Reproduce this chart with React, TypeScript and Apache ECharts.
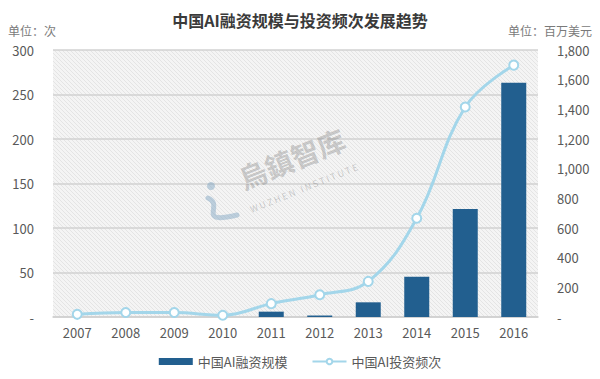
import React, { useEffect, useRef } from "react";
import * as echarts from "echarts";

const years = ["2007", "2008", "2009", "2010", "2011", "2012", "2013", "2014", "2015", "2016"];
const financing = [0, 0, 0, 0, 36, 10, 99, 272, 728, 1580]; // 百万美元
const frequency = [3, 5, 5, 2, 15, 25, 40, 111, 236, 283]; // 次
const leftTicks = { min: 0, max: 300, interval: 50 };
const rightTicks = { min: 0, max: 1800, interval: 200 };

const FONT = '"Noto Sans CJK SC", "Noto Sans", sans-serif';

function makePattern(): HTMLCanvasElement {
  const c = document.createElement("canvas");
  c.width = 4;
  c.height = 4;
  const ctx = c.getContext("2d")!;
  ctx.fillStyle = "#f4f4f4";
  ctx.fillRect(0, 0, 4, 4);
  ctx.strokeStyle = "#e4e4e4";
  ctx.lineWidth = 1;
  ctx.beginPath();
  ctx.moveTo(0, 0);
  ctx.lineTo(4, 4);
  ctx.stroke();
  return c;
}

export default function App() {
  const ref = useRef<HTMLDivElement>(null);
  useEffect(() => {
    if (!ref.current) return;
    const chart = echarts.init(ref.current, undefined, { renderer: "svg" });
    const fmtRight = (v: number) => (v === 0 ? "-" : v.toLocaleString("en-US"));
    const fmtLeft = (v: number) => (v === 0 ? "-" : String(v));
    chart.setOption({
      animation: false,
      backgroundColor: "#ffffff",
      textStyle: { fontFamily: FONT },
      grid: {
        left: 53,
        right: 62,
        top: 50,
        bottom: 62,
        show: true,
        borderWidth: 0,
        backgroundColor: { image: makePattern(), repeat: "repeat" } as any,
      },
      graphic: [
        {
          type: "text",
          left: "center",
          top: 12,
          style: {
            text: "中国AI融资规模与投资频次发展趋势",
            font: `bold 16px ${FONT}`,
            fill: "#3a3a3a",
          },
        },
        {
          type: "text",
          x: 8,
          y: 30,
          style: { text: "单位：次", font: `12px ${FONT}`, fill: "#7a7a7a", verticalAlign: "middle" },
        },
        {
          type: "text",
          x: 592,
          y: 30,
          style: { text: "单位：百万美元", font: `12px ${FONT}`, fill: "#7a7a7a", align: "right", verticalAlign: "middle" },
        },
        {
          type: "text",
          x: 245,
          y: 192,
          rotation: (22 * Math.PI) / 180,
          style: { text: "烏鎮智库", font: `bold 28px ${FONT}`, fill: "rgba(110,110,110,0.32)", verticalAlign: "bottom" },
          z: 100,
        },
        {
          type: "text",
          x: 252,
          y: 214,
          rotation: (22 * Math.PI) / 180,
          style: { text: "W U Z H E N   I N S T I T U T E", font: `9px ${FONT}`, fill: "rgba(110,110,110,0.32)", verticalAlign: "bottom" },
          z: 100,
        },
        {
          type: "circle",
          shape: { cx: 211, cy: 186, r: 4 },
          style: { fill: "rgba(120,160,190,0.45)" },
          z: 100,
        },
        {
          type: "bezierCurve",
          shape: { x1: 208, y1: 198, cpx1: 225, cpy1: 205, cpx2: 195, cpy2: 225, x2: 237, y2: 215 },
          style: { stroke: "rgba(120,160,190,0.45)", lineWidth: 5, fill: "none", lineCap: "round" },
          z: 100,
        },
      ],
      legend: {
        bottom: 6,
        left: "center",
        itemWidth: 34,
        itemHeight: 7,
        itemGap: 24,
        textStyle: { fontSize: 13, color: "#595959", fontFamily: FONT },
        data: [
          { name: "中国AI融资规模", icon: "rect" },
          { name: "中国AI投资频次" },
        ],
      },
      xAxis: {
        type: "category",
        data: years,
        boundaryGap: true,
        axisLine: { lineStyle: { color: "#cfcfcf", width: 1.5 } },
        axisTick: { show: false },
        axisLabel: { color: "#595959", fontSize: 13, margin: 9 },
      },
      yAxis: [
        {
          type: "value",
          ...leftTicks,
          position: "left",
          axisLine: { show: false },
          axisTick: { show: false },
          axisLabel: { color: "#595959", fontSize: 13, margin: 19, formatter: fmtLeft },
          splitLine: { lineStyle: { color: "#d2d2d2", width: 1.5 } },
        },
        {
          type: "value",
          ...rightTicks,
          position: "right",
          axisLine: { show: false },
          axisTick: { show: false },
          axisLabel: { color: "#595959", fontSize: 13, margin: 19, formatter: fmtRight },
          splitLine: { show: false },
        },
      ],
      series: [
        {
          name: "中国AI融资规模",
          type: "bar",
          yAxisIndex: 1,
          data: financing,
          barWidth: 25,
          itemStyle: { color: "#225f8f" },
        },
        {
          name: "中国AI投资频次",
          type: "line",
          yAxisIndex: 0,
          data: frequency,
          smooth: 0.4,
          symbol: "circle",
          symbolSize: 9,
          lineStyle: { color: "#a3d6ea", width: 3 },
          itemStyle: { color: "#ffffff", borderColor: "#a3d6ea", borderWidth: 2 },
          z: 5,
        },
      ],
    });
    return () => chart.dispose();
  }, []);
  return <div ref={ref} style={{ width: 600, height: 379, position: "absolute", left: 0, top: 0 }} />;
}
